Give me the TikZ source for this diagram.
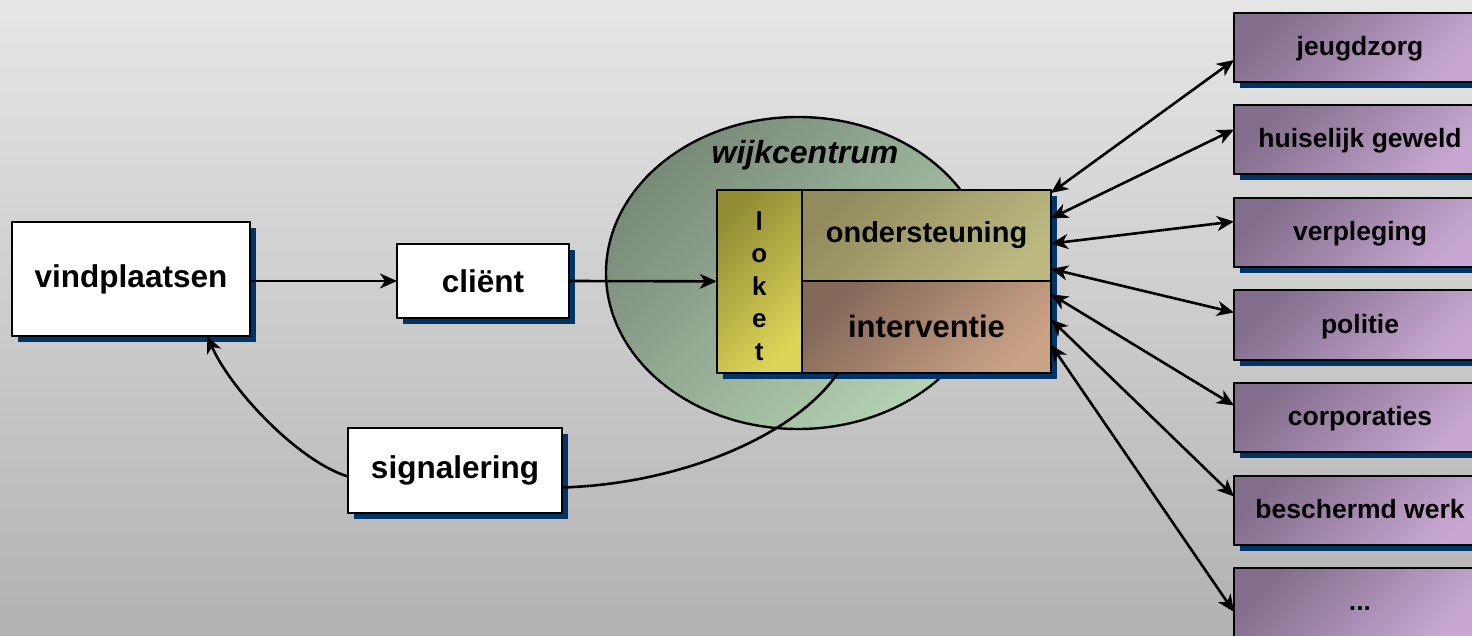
\documentclass[tikz,border=0pt]{standalone}
\usepackage{fontspec}
\setmainfont{Liberation Sans}
\usetikzlibrary{arrows.meta,calc,shapes.geometric}
\pgfdeclarelayer{back}
\pgfdeclarelayer{shad}
\pgfsetlayers{back,shad,main}
\definecolor{shadowc}{HTML}{003366}
\definecolor{bgtop}{HTML}{E6E6E6}
\definecolor{bgbot}{HTML}{B2B2B2}
\definecolor{elltop}{HTML}{788A78}
\definecolor{ellbot}{HTML}{B4D2B4}
\definecolor{loktop}{HTML}{938D36}
\definecolor{lokbot}{HTML}{DCD558}
\definecolor{ondtop}{HTML}{928B5E}
\definecolor{ondbot}{HTML}{BBB880}
\definecolor{inttop}{HTML}{846858}
\definecolor{intbot}{HTML}{CAA286}
\definecolor{rtop}{HTML}{836D8C}
\definecolor{rbot}{HTML}{C8A8D2}
\tikzset{
  box/.style={draw, line width=2pt, fill=white, anchor=north west, inner sep=0, outer sep=0,
    font=\fontsize{31.5}{36}\selectfont\bfseries},
  rbox/.style={draw, line width=2pt, anchor=north west, minimum width=252, minimum height=69,
    inner sep=0, outer sep=0, top color=rtop, bottom color=rbot, shading angle=45,
    text height=20, text depth=4,
    font=\fontsize{26.5}{30}\selectfont\bfseries},
  part/.style={draw, line width=2pt, anchor=north west, inner sep=0, outer sep=0},
  arr/.style={line width=2.6pt, -{Stealth[length=17pt,width=15pt,inset=5pt]}},
  arr2/.style={line width=2.6pt, {Stealth[length=17pt,width=15pt,inset=5pt]}-{Stealth[length=17pt,width=15pt,inset=5pt]}},
}
\begin{document}
\begin{tikzpicture}[x=1pt,y=-1pt]
\useasboundingbox (0,0) rectangle (1472,636);
\begin{pgfonlayer}{back}
  \shade[top color=bgtop, bottom color=bgbot] (0,0) rectangle (1472,636);
  \node[ellipse, draw, line width=2.4pt, minimum width=384, minimum height=312, inner sep=0,
        top color=elltop, bottom color=ellbot, shading angle=45] (wijk) at (798,273) {};
\end{pgfonlayer}
\node[font=\fontsize{32}{38}\selectfont\bfseries\itshape] (wijklabel) at (805,155) {wijkcentrum};

% left boxes
\node[box, minimum width=238, minimum height=114] (vind) at (12,222) {vindplaatsen};
\node[box, minimum width=172, minimum height=74] (client) at (397,244) {cliënt};
\node[box, minimum width=214, minimum height=85] (sig) at (348,428) {signalering};

% main box
\node[part, minimum width=85.3, minimum height=182.7, top color=loktop, bottom color=lokbot, shading angle=45] (loket) at (716.7,190) {};
\node[font=\fontsize{26}{32.5}\selectfont\bfseries, align=center, inner sep=0] (loklabel) at (759.3,286) {l\\o\\k\\e\\t};
\node[part, minimum width=249, minimum height=91, top color=ondtop, bottom color=ondbot, shading angle=45,
      font=\fontsize{29}{34}\selectfont\bfseries] (onder) at (802,190) {ondersteuning};
\node[part, minimum width=249, minimum height=91.7, top color=inttop, bottom color=intbot, shading angle=45,
      font=\fontsize{31}{36}\selectfont\bfseries] (interv) at (802,281) {interventie};

% right boxes
\node[rbox] (r1) at (1234,13) {jeugdzorg};
\node[rbox] (r2) at (1234,105.5) {huiselijk geweld};
\node[rbox] (r3) at (1234,198) {verpleging};
\node[rbox] (r4) at (1234,290.5) {politie};
\node[rbox] (r5) at (1234,383) {corporaties};
\node[rbox] (r6) at (1234,475.5) {beschermd werk};
\node[rbox] (r7) at (1234,568) {...};

% shadows
\begin{pgfonlayer}{shad}
  \foreach \n in {vind,client,sig,r1,r2,r3,r4,r5,r6,r7}
    \fill[shadowc] ($(\n.north west)+(6,6)$) rectangle ($(\n.south east)+(6,6)$);
  \fill[shadowc] ($(loket.north west)+(6,6)$) rectangle ($(interv.south east)+(6,6)$);
\end{pgfonlayer}

% connectors
\draw[arr] (vind.east |- client.west) -- (client.west);
\draw[arr] (client.east) -- (loket.west);
\draw[arr] ([yshift=-6pt]sig.west) .. controls (300,462) and (232,392) .. ($(vind.south west)!0.82!(vind.south east)$);
\draw[line width=2.6pt] ([yshift=-17pt]sig.east) .. controls (680,484) and (795,436) .. ($(interv.south west)!0.145!(interv.south east)$);

\foreach \i/\dy in {1/3, 2/28.3, 3/53.6, 4/78.9, 5/104.2, 6/129.5, 7/154.8}
  \coordinate (p\i) at ($(onder.north east)+(0,\dy)$);
\foreach \i/\dy in {1/12.5, 2/-10.5, 3/-11, 4/-12.5, 5/-12, 6/-13.5, 7/9.5}
  \coordinate (q\i) at ($(r\i.west)+(0,\dy)$);
\foreach \i in {1,...,7}
  \draw[arr2] (p\i) -- (q\i);
\end{tikzpicture}
\end{document}
